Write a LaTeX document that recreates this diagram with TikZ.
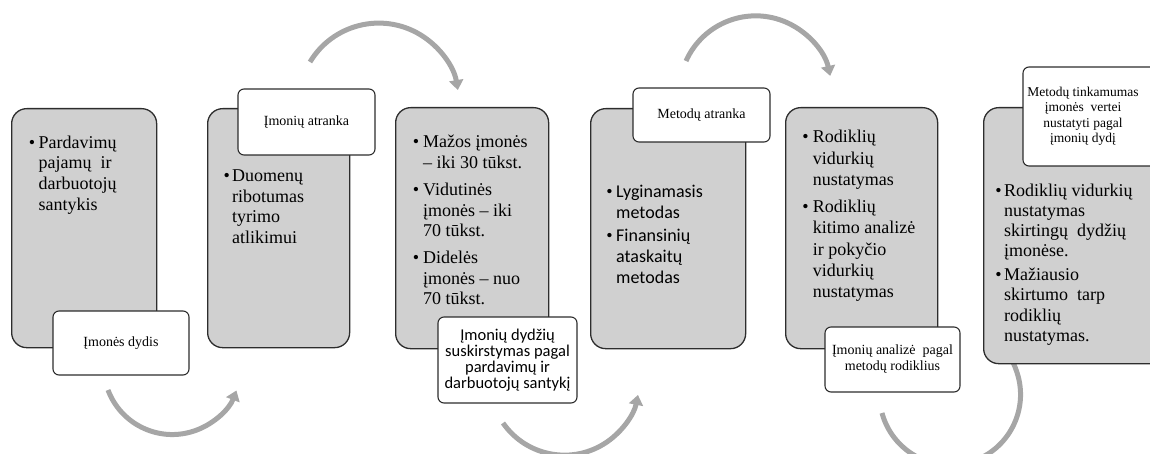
\documentclass[tikz,border=0pt]{standalone}
\usepackage{fontspec}
\setmainfont{Liberation Serif}
\newfontfamily\calibrifont{Carlito}
\usetikzlibrary{arrows.meta}
\definecolor{boxgray}{RGB}{208,208,208}
\definecolor{edgecol}{RGB}{45,45,45}
\definecolor{arrowgray}{RGB}{166,166,166}
% #1 name, #2 extra text style, #3 bullet x, #4 text x, #5 first baseline, #6 pitch, #7 lines
\newcommand\bitem[7]{%
  \node[bul] (#1b) at (#3,#5) {\textbullet};
  \foreach \ln [count=\i] in {#7} {\node[btxt,#2] (#1l\i) at (#4,{#5+(\i-1)*#6}) {\ln};}
}
\begin{document}
\begin{tikzpicture}[x=1pt,y=-1pt,
  gbox/.style={draw=edgecol, line width=1.3pt, fill=boxgray, rounded corners=15pt, anchor=north west, inner sep=0pt},
  lbox/.style={draw=edgecol, line width=1.1pt, fill=white, rounded corners=6pt, inner sep=0pt, align=center,
               font=\fontsize{14pt}{16pt}\selectfont},
  flow/.style={draw=arrowgray, line width=5pt, -{Triangle[length=10pt,width=14pt]}},
  btxt/.style={anchor=base west, inner sep=0pt, font=\fontsize{18pt}{21pt}\selectfont},
  bul/.style={anchor=base, inner sep=0pt, font=\fontsize{18pt}{21pt}\selectfont},
  cal/.style={font=\calibrifont\fontsize{18pt}{21pt}\selectfont}]
\useasboundingbox (0,0) rectangle (1150,454);
\clip (0,0) rectangle (1150,454);

% arrows
\coordinate (a1s) at (108,390);
\coordinate (a2s) at (310,62);
\coordinate (a3s) at (503,423);
\coordinate (a4s) at (686,61);
\coordinate (a5s) at (882,413);
\draw[flow] (a1s) arc[start angle=159.4, end angle=21, radius=68.7];
\draw[flow] (a2s) arc[start angle=211, end angle=350.5, radius=80.2];
\draw[flow] (a3s) arc[start angle=145.2, end angle=11.3, radius=74.9];
\draw[flow] (a4s) arc[start angle=204.1, end angle=347.7, radius=76.3];
\draw[flow] (a5s) arc[start angle=164.8, end angle=-45, radius=70.5];

% grey boxes
\node[gbox, minimum width=145pt, minimum height=239pt] (g1) at (11,108) {};
\node[gbox, minimum width=142pt, minimum height=239pt] (g2) at (207,108) {};
\node[gbox, minimum width=153pt, minimum height=241pt] (g3) at (395,107) {};
\node[gbox, minimum width=155pt, minimum height=240pt] (g4) at (590,108) {};
\node[gbox, minimum width=152pt, minimum height=241pt] (g5) at (785,107) {};
\node[gbox, minimum width=185pt, minimum height=256pt] (g6) at (983,107) {};

% labels
\node[lbox, minimum width=136pt, minimum height=64pt] (l1) at (121,343) {Įmonės dydis};
\node[lbox, minimum width=137pt, minimum height=66pt] (l2) at (306.5,122) {Įmonių atranka};
\node[lbox, minimum width=139pt, minimum height=86pt, font=\calibrifont\fontsize{16.5pt}{16pt}\selectfont] (l3) at (507.5,360)
  {Įmonių dydžių\\suskirstymas pagal\\pardavimų ir\\darbuotojų santykį};
\node[lbox, minimum width=137pt, minimum height=54pt] (l4) at (701.5,115) {Metodų atranka};
\node[lbox, minimum width=135pt, minimum height=65pt] (l5) at (892.5,359.5) {Įmonių analizė\ \ pagal\\metodų rodiklius};
\node[lbox, minimum width=145pt, minimum height=99pt] (l6) at (1095.5,116.5) {};
\node[align=center, inner sep=0pt, font=\fontsize{13.5pt}{15.5pt}\selectfont] (l6t) at (1083,116.5)
  {Metodų tinkamumas\\įmonės\ \ vertei\\nustatyti pagal\\įmonių dydį};

% bullet texts
\bitem{t1}{}{32}{38.5}{148.3}{20.7}{Pardavimų,pajamų\ \ ir,darbuotojų,santykis}
\bitem{t2}{}{226.7}{232}{181.7}{20.5}{Duomenų,ribotumas,tyrimo,atlikimui}
\bitem{t3a}{}{416}{423}{148}{20.7}{Mažos įmonės,– iki 30 tūkst.}
\bitem{t3b}{}{416}{423}{195.4}{20.7}{Vidutinės,įmonės – iki,70 tūkst.}
\bitem{t3c}{}{416}{423}{263.5}{20.7}{Didelės,įmonės – nuo,70 tūkst.}
\bitem{t4a}{cal}{609.5}{616}{197.3}{21}{Lyginamasis,metodas}
\bitem{t4b}{cal}{609.5}{616}{241.7}{21}{Finansinių,ataskaitų,metodas}
\bitem{t5a}{}{805.5}{812.7}{143}{21.5}{Rodiklių,vidurkių,nustatymas}
\bitem{t5b}{}{805.5}{812.7}{212.5}{21.3}{Rodiklių,kitimo analizė,ir pokyčio,vidurkių,nustatymas}
\bitem{t6a}{}{998.5}{1004}{196.5}{20.1}{Rodiklių vidurkių,nustatymas,skirtingų\ \ dydžių,įmonėse.}
\bitem{t6b}{}{998.5}{1004}{280}{20.5}{Mažiausio,skirtumo\ \ tarp,rodiklių,nustatymas.}
\end{tikzpicture}
\end{document}
